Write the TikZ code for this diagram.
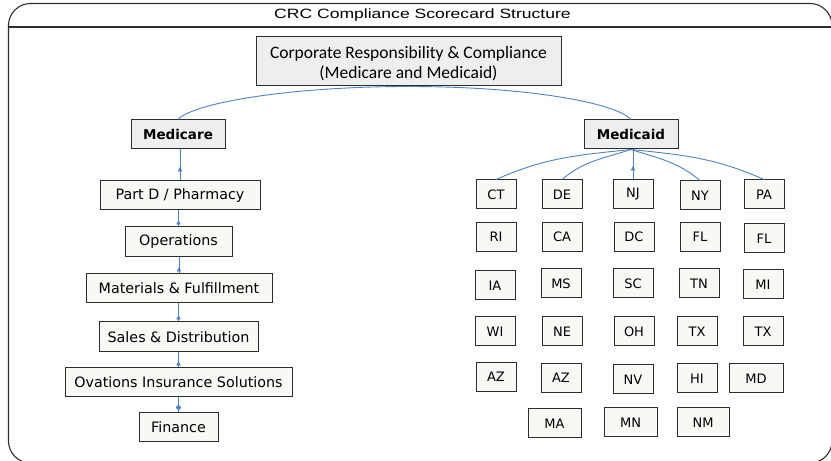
\documentclass[tikz,border=0pt]{standalone}
\usepackage{fontspec}
\usepackage{tikz}
\usetikzlibrary{
  arrows.meta,
  decorations.markings
}
\newfontfamily\titlefont[FakeStretch=1.3]{Liberation Sans}
\newfontfamily\boxfont{DejaVu Sans}
\newfontfamily\headfont{Carlito}
\definecolor{linkblue}{RGB}{79,129,189}
\definecolor{boxline}{RGB}{45,45,45}
\definecolor{headfill}{RGB}{238,238,238}
\definecolor{leaffill}{RGB}{248,248,244}

\begin{document}
\begin{tikzpicture}[x=1pt, y=1pt,
  headbox/.style={draw=boxline, fill=headfill, line width=1pt, inner sep=0pt, align=center},
  leaf/.style={draw=boxline, fill=leaffill, line width=1pt, inner sep=0pt, minimum height=29pt},
  state/.style={leaf, minimum width=40pt, font=\boxfont\fontsize{13}{15}\selectfont},
  unit/.style={leaf, font=\boxfont\fontsize{14.3}{17}\selectfont},
  link/.style={draw=linkblue, line width=0.9pt},
  uplink/.style={link, postaction={decorate, decoration={markings,
      mark=at position #1 with {\arrow{Latex[length=5pt,width=5pt]}}}}},
  uplink/.default=7pt
]
  \useasboundingbox (0,0) rectangle (831,461);
  \clip (0,0) rectangle (831,461);

  % frame and title band
  \draw[boxline, line width=1.1pt, rounded corners=22pt] (8.5,-2) rectangle (832,457.5);
  \draw[boxline, line width=1.1pt] (8.5,434) -- (832,434);
  \node[font=\titlefont\fontsize{13.5}{16}\selectfont] (title) at (422.5,446) {CRC Compliance Scorecard Structure};

  % top level
  \node[headbox, minimum width=305pt, minimum height=49pt, font=\headfont\fontsize{17.5}{20}\selectfont] (crc) at (408.5,399.5)
    {\rule{0pt}{16pt}Corporate Responsibility \& Compliance\\(Medicare and Medicaid)};
  \node[headbox, minimum width=94pt, minimum height=29pt, font=\boxfont\bfseries\fontsize{13.5}{16}\selectfont] (medicare) at (178,326.5) {Medicare};
  \node[headbox, minimum width=94pt, minimum height=29pt, font=\boxfont\bfseries\fontsize{13.5}{16}\selectfont] (medicaid) at (631,326.5) {Medicaid};
  \draw[link] (crc.south) to[out=180, in=48, out distance=120pt, in distance=22pt] (medicare.north);
  \draw[link] (crc.south) to[out=0, in=132, out distance=120pt, in distance=22pt] (medicaid.north);

  % Medicare side
  \node[unit, minimum width=160pt] (partd) at (180,265.5) {Part D / Pharmacy};
  \node[unit, minimum width=107pt, minimum height=30pt] (ops) at (178.5,219) {Operations};
  \node[unit, minimum width=186pt] (matl) at (179,172.5) {Materials \& Fulfillment};
  \node[unit, minimum width=159pt, minimum height=30pt] (sales) at (178.5,124) {Sales \& Distribution};
  \node[unit, minimum width=227pt] (ovations) at (178.5,78.5) {Ovations Insurance Solutions};
  \node[unit, minimum width=79pt] (finance) at (178.5,33.5) {Finance};

  \draw[uplink=14pt] (partd.north) -- (partd.north |- medicare.south);
  \draw[uplink] (ops.north) -- (ops.north |- partd.south);
  \draw[uplink] (matl.north) -- (matl.north |- ops.south);
  \draw[uplink] (sales.north) -- (sales.north |- matl.south);
  \draw[uplink] (ovations.north) -- (ovations.north |- sales.south);
  \draw[link, postaction={decorate, decoration={markings,
      mark=at position 5pt with {\fill[linkblue] (0,0) circle (2.4pt);}}}]
    (finance.north) -- (finance.north |- ovations.south);

  % Medicaid states
  \foreach \nm/\lbl/\px/\py in {
      ct/CT/496/266.5, de/DE/562/266.5, nj/NJ/633/266.5, ny/NY/700/265.5, pa/PA/764/266.5,
      ri/RI/496/224, ca/CA/562/224, dc/DC/634/224, fla/FL/700/224, flb/FL/764/222.5,
      ia/IA/495/175.5, ms/MS/561/177.5, sc/SC/633/177.5, tn/TN/699/177.5, mi/MI/763/176.5,
      wi/WI/495/129.5, ne/NE/562/129.5, oh/OH/634/129.5, txa/TX/697/129.5, txb/TX/763/129.5,
      aza/AZ/496/84, azb/AZ/561/83, nv/NV/633/81.5, hi/HI/697/82.5}
    \node[state] (\nm) at (\px,\py) {\lbl};
  \node[state, minimum width=54pt] (md) at (756,82.5) {MD};
  \node[state, minimum width=53pt] (ma) at (554.5,37.5) {MA};
  \node[state, minimum width=53pt] (mn) at (630.5,38.5) {MN};
  \node[state, minimum width=52pt] (nm) at (703,38.5) {NM};

  \draw[link] (medicaid.south) to[out=186, in=24] (ct.north);
  \draw[link] (medicaid.south) to[out=198, in=40] (de.north);
  \draw[uplink=14pt] (nj.north) -- (nj.north |- medicaid.south);
  \draw[link] (medicaid.south) to[out=-18, in=140] (ny.north);
  \draw[link] (medicaid.south) to[out=-6, in=156] (pa.north);
\end{tikzpicture}
\end{document}
